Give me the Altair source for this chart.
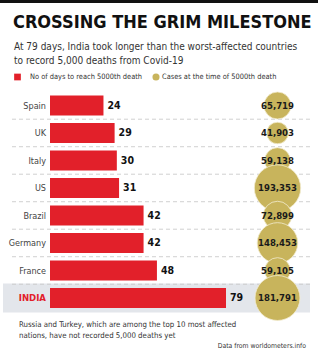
import altair as alt
import pandas as pd

# Days taken to reach 5,000 Covid-19 deaths, and cases on that day
countries = ["Spain", "UK", "Italy", "US", "Brazil", "Germany", "France", "INDIA"]
days = [24, 29, 30, 31, 42, 42, 48, 79]
cases = [65719, 41903, 59138, 193353, 72899, 148453, 59105, 181791]
case_labels = ["65,719", "41,903", "59,138", "193,353", "72,899", "148,453", "59,105", "181,791"]

title = "CROSSING THE GRIM MILESTONE"
subtitle = [
    "At 79 days, India took longer than the worst-affected countries",
    "to record 5,000 deaths from Covid-19",
]
legend_items = ["No of days to reach 5000th death", "Cases at the time of 5000th death"]
footnote = [
    "Russia and Turkey, which are among the top 10 most affected",
    "nations, have not recorded 5,000 deaths yet",
]
source = "Data from worldometers.info"

RED = "#e2202a"
GOLD = "#c8b45c"
FONT = "DejaVu Sans Condensed, Roboto, sans-serif"
W, H = 318, 362

df = pd.DataFrame({
    "country": countries,
    "days": days,
    "cases": cases,
    "cases_label": case_labels,
})
one = pd.DataFrame({"k": [0]})

y_scale = alt.Scale(domain=countries, range=[91.75, 311.75],
                    paddingInner=0.27, paddingOuter=0.135)
x_scale = alt.Scale(domain=[0, 79], range=[50, 226])
Y = alt.Y("country:N", scale=y_scale, axis=None)

base = alt.Chart(df)
is_india = "datum.country === 'INDIA'"

top_bar = alt.Chart(one).mark_rect(color="#111").encode(
    x=alt.value(0), x2=alt.value(W), y=alt.value(0), y2=alt.value(3))

india_band = base.transform_filter(is_india).mark_bar(
    color="#e3e6eb", height={"band": 1.45}
).encode(y=Y, x=alt.value(3), x2=alt.value(310))

# dashed separators half-way between neighbouring bars
grid = base.transform_filter("datum.country !== 'Spain'").mark_rule(
    color="#c4c4c4", strokeDash=[4, 3], strokeWidth=0.8, yOffset=-3.75
).encode(y=alt.Y("country:N", scale=y_scale, axis=None, bandPosition=0),
         x=alt.value(12), x2=alt.value(310))

bars = base.mark_bar(color=RED).encode(
    y=Y,
    x=alt.X("days:Q", scale=x_scale, axis=None),
    x2=alt.value(50),
)

bar_labels = base.mark_text(align="left", baseline="middle", dx=4,
                            font=FONT, fontWeight="bold", fontSize=10.5,
                            color="#111").encode(
    y=Y, x=alt.X("days:Q", scale=x_scale, axis=None), text="days:Q")

country_labels = base.transform_filter(f"!({is_india})").mark_text(
    align="right", baseline="middle", font=FONT, fontSize=9, color="#444"
).encode(y=Y, x=alt.value(46), text="country:N")

india_label = base.transform_filter(is_india).mark_text(
    align="right", baseline="middle", font=FONT, fontSize=9.5,
    fontWeight="bold", color=RED
).encode(y=Y, x=alt.value(46), text="country:N")

circles = base.mark_circle(color=GOLD, opacity=1, stroke="#f3ecd0",
                           strokeWidth=0.8).encode(
    y=Y, x=alt.value(277.5),
    size=alt.Size("cases:Q", scale=alt.Scale(type="linear", domain=[0, 193353],
                                             range=[0, 2150]), legend=None),
)

circle_labels = base.mark_text(align="center", baseline="middle", font=FONT,
                               fontWeight="bold", fontSize=9.5, color="#1a1a1a").encode(
    y=Y, x=alt.value(277.5), text="cases_label:N")

def txt(s, x, y, size, color="#333", weight="normal", align="left"):
    return alt.Chart(one).mark_text(text=s, align=align, baseline="middle",
                                    font=FONT, fontSize=size, fontWeight=weight,
                                    color=color).encode(x=alt.value(x), y=alt.value(y))

title_t = txt(title, 13, 23, 18, color="#111", weight="bold")
sub1 = txt(subtitle[0], 14, 47, 10, color="#333")
sub2 = txt(subtitle[1], 14, 61, 10, color="#333")

leg_sq = alt.Chart(one).mark_square(color=RED, size=45, opacity=1).encode(
    x=alt.value(17.5), y=alt.value(77))
leg_t1 = txt(legend_items[0], 30, 77, 7.4)
leg_ci = alt.Chart(one).mark_circle(color=GOLD, size=50, opacity=1).encode(
    x=alt.value(156), y=alt.value(77))
leg_t2 = txt(legend_items[1], 162, 77, 7.4)

foot1 = txt(footnote[0], 19, 325, 7.8)
foot2 = txt(footnote[1], 19, 335.5, 7.8)
src = txt(source, 306, 346, 6.8, align="right")

chart = alt.layer(
    top_bar, india_band, grid, bars, bar_labels, country_labels, india_label,
    circles, circle_labels, title_t, sub1, sub2,
    leg_sq, leg_t1, leg_ci, leg_t2, foot1, foot2, src,
).properties(
    width=W, height=H, padding=0, autosize=alt.AutoSizeParams(type="none"),
    background="white",
).configure_view(stroke=None)

chart.save("out.html", embed_options={"renderer": "svg", "actions": False})
